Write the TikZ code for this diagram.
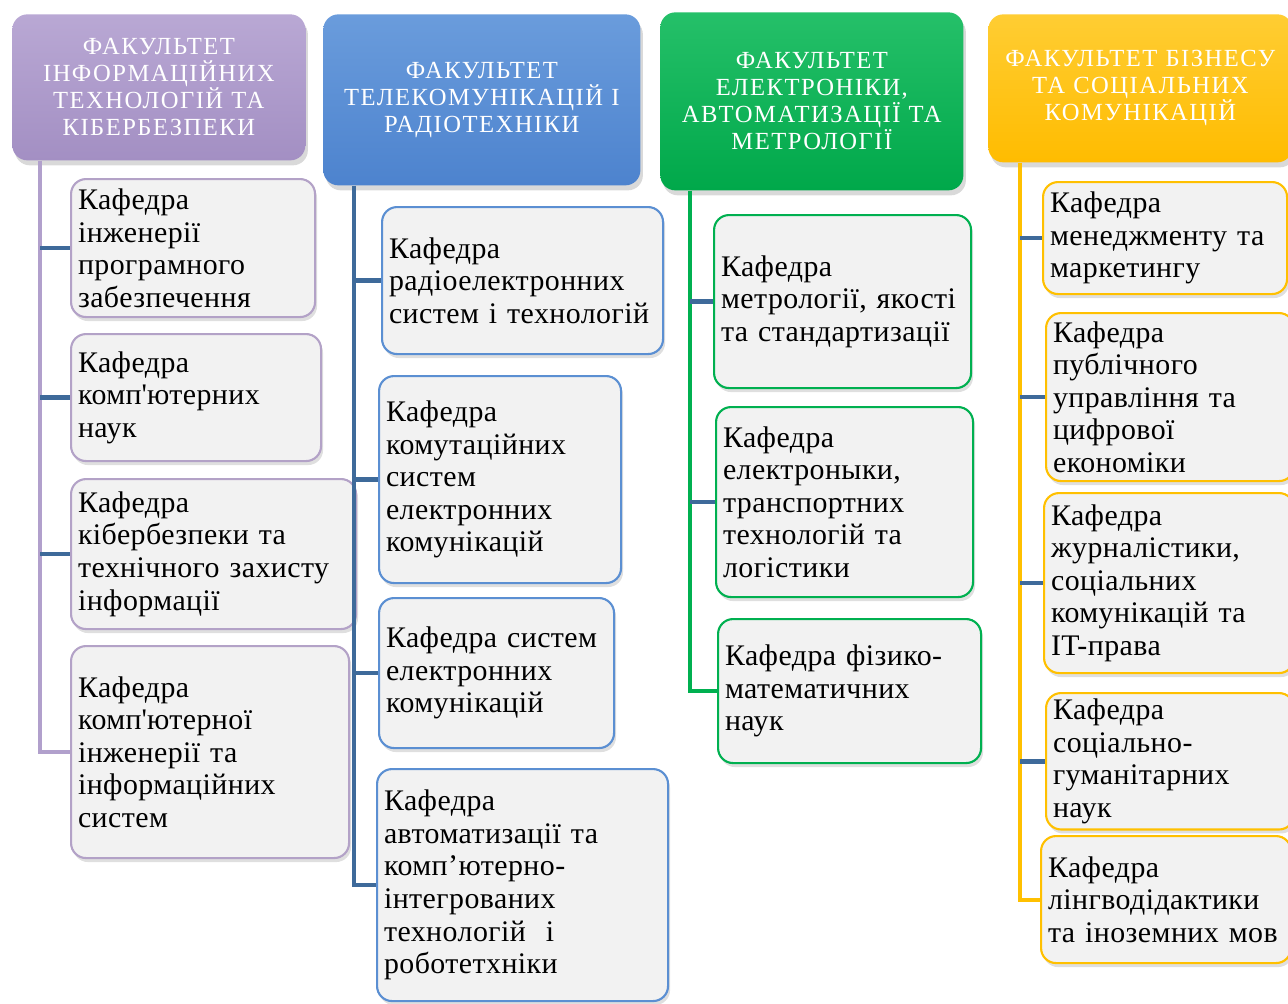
\documentclass[tikz,border=0pt]{standalone}
\usepackage{fontspec}
\setmainfont{Liberation Serif}
\newfontfamily\kaffont[LetterSpace=1.5]{Liberation Serif}
\newfontfamily\fakfont[LetterSpace=6]{Liberation Serif}
\usetikzlibrary{shadows}
\definecolor{lilatop}{HTML}{B9A8D4}
\definecolor{lila}{HTML}{A38FC3}
\definecolor{lilaline}{HTML}{B1A0CC}
\definecolor{lilaedge}{HTML}{B3A2C7}
\definecolor{blautop}{HTML}{6A9CDC}
\definecolor{blau}{HTML}{4D83CE}
\definecolor{blauedge}{HTML}{5B8FD2}
\definecolor{gruentop}{HTML}{25C069}
\definecolor{gruen}{HTML}{00A84A}
\definecolor{gruenline}{HTML}{00B050}
\definecolor{gelbtop}{HTML}{FFCD33}
\definecolor{gelb}{HTML}{FFBC00}
\definecolor{gelbline}{HTML}{FFC000}
\definecolor{stahl}{HTML}{3E6A9A}
\definecolor{kfill}{HTML}{F2F2F2}
\begin{document}
\begin{tikzpicture}[x=0.2mm, y=-0.2mm,
	fak/.style 2 args={rounded corners=3mm, top color=#1, bottom color=#2, text=white,
		align=center, inner xsep=1.6mm, anchor=north west,
		font=\fakfont\fontsize{14}{15.4}\selectfont,
		drop shadow={opacity=0.3, shadow xshift=0.5mm, shadow yshift=-1mm}},
	kaf/.style={rounded corners=3mm, draw=#1, line width=1.2pt, fill=kfill,
		align=left, inner xsep=1.4mm, anchor=north west,
		font=\kaffont\fontsize{17}{18.5}\selectfont,
		drop shadow={opacity=0.25, shadow xshift=0.4mm, shadow yshift=-0.8mm}},
	stamm/.style={line width=2.3pt, draw=#1},
	ast/.style={line width=2.6pt, draw=stahl}]
	\useasboundingbox (0,0) rectangle (1288,1003);
	
	\node[fak={lilatop}{lila}, text width=55.4mm, minimum height=29.2mm] (f1) at (12,14)
		{ФАКУЛЬТЕТ\\ІНФОРМАЦІЙНИХ\\ТЕХНОЛОГІЙ ТА\\КІБЕРБЕЗПЕКИ};
	\node[fak={blautop}{blau}, text width=60.2mm, minimum height=34.2mm] (f2) at (323,14)
		{ФАКУЛЬТЕТ\\ТЕЛЕКОМУНІКАЦІЙ І\\РАДІОТЕХНІКИ};
	\node[fak={gruentop}{gruen}, text width=57.4mm, minimum height=35.6mm] (f3) at (660,12)
		{ФАКУЛЬТЕТ\\ЕЛЕКТРОНІКИ,\\АВТОМАТИЗАЦІЇ ТА\\МЕТРОЛОГІЇ};
	\node[fak={gelbtop}{gelb}, text width=57.6mm, minimum height=29.6mm] (f4) at (988,14)
		{ФАКУЛЬТЕТ БІЗНЕСУ\\ТА СОЦІАЛЬНИХ\\КОМУНІКАЦІЙ};
	
	\node[kaf=lilaedge, text width=46mm, minimum height=27.6mm] (k11) at (70,178)
		{Кафедра\\інженерії\\програмного\\забезпечення};
	\node[kaf=lilaedge, text width=47.2mm, minimum height=25.4mm] (k12) at (70,333)
		{Кафедра\\комп\textquotesingle ютерних\\наук};
	\node[kaf=lilaedge, text width=54.2mm, minimum height=30mm] (k13) at (70,478)
		{Кафедра\\кібербезпеки та\\технічного захисту\\інформації};
	\node[kaf=lilaedge, text width=52.8mm, minimum height=42.4mm] (k14) at (70,645)
		{Кафедра\\комп\textquotesingle ютерної\\інженерії та\\інформаційних\\систем};
	
	\node[kaf=blauedge, text width=53.4mm, minimum height=29.4mm] (k21) at (381,206)
		{Кафедра\\радіоелектронних\\систем і технологій};
	\node[kaf=blauedge, text width=45.6mm, minimum height=41.4mm] (k22) at (378,375)
		{Кафедра\\комутаційних\\систем\\електронних\\комунікацій};
	\node[kaf=blauedge, text width=44.2mm, minimum height=30mm] (k23) at (378,597)
		{Кафедра систем\\електронних\\комунікацій};
	\node[kaf=blauedge, text width=55.4mm, minimum height=46.4mm] (k24) at (376,768)
		{Кафедра\\автоматизації та\\комп’ютерно-\\інтегрованих\\технологій\ \ і\\роботетхніки};
	
	\node[kaf=gruenline, text width=48.6mm, minimum height=34.6mm] (k31) at (713,214)
		{Кафедра\\метрології, якості\\та стандартизації};
	\node[kaf=gruenline, text width=48.6mm, minimum height=38mm] (k32) at (715,406)
		{Кафедра\\електроныки,\\транспортних\\технологій та\\логістики};
	\node[kaf=gruenline, text width=49.8mm, minimum height=28.8mm] (k33) at (717,618)
		{Кафедра фізико-\\математичних\\наук};
	
	\node[kaf=gelbline, text width=46mm, minimum height=22.4mm] (k41) at (1042,181)
		{Кафедра\\менеджменту та\\маркетингу};
	\node[kaf=gelbline, text width=46.8mm, minimum height=33.6mm] (k42) at (1045,312)
		{Кафедра\\публічного\\управління та\\цифрової\\економіки};
	\node[kaf=gelbline, text width=47.2mm, minimum height=36mm] (k43) at (1043,492)
		{Кафедра\\журналістики,\\соціальних\\комунікацій та\\IT-права};
	\node[kaf=gelbline, text width=46.8mm, minimum height=25.6mm] (k44) at (1045,692)
		{Кафедра\\соціально-\\гуманітарних\\наук};
	\node[kaf=gelbline, text width=47.2mm, minimum height=25.4mm] (k45) at (1040,835)
		{Кафедра\\лінгводідактики\\та іноземних мов};
	
	\coordinate (v1) at (40,0);
	\coordinate (v2) at (354,0);
	\coordinate (v3) at (690,0);
	\coordinate (v4) at (1020,0);
	
	\draw[stamm=lilaline] (f1.south -| v1) |- (k14.west);
	\draw[stamm=stahl] (f2.south -| v2) |- (k24.west);
	\draw[stamm=gruenline] (f3.south -| v3) |- (k33.west);
	\draw[stamm=gelbline] (f4.south -| v4) |- (k45.west);
	
	\foreach \k in {k11,k12,k13}
		\draw[ast] (\k.west -| v1) -- (\k.west);
	\foreach \k in {k21,k22,k23}
		\draw[ast] (\k.west -| v2) -- (\k.west);
	\foreach \k in {k31,k32}
		\draw[ast] (\k.west -| v3) -- (\k.west);
	\foreach \k in {k41,k42,k43,k44}
		\draw[ast] (\k.west -| v4) -- (\k.west);
\end{tikzpicture}
\end{document}
